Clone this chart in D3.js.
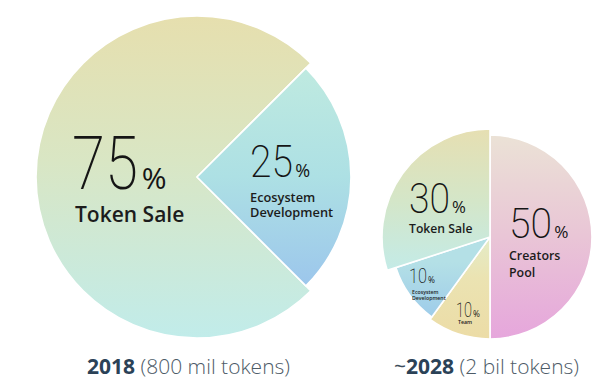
<!DOCTYPE html>
<html>
    <head>
        <title>Token Allocation</title>
        <style>
            body { margin:0; background:#ffffff; }
            #chart { width:608px; height:390px; }
            text { font-family:"Open Sans", sans-serif; }
            .num { font-family:Roboto, sans-serif; font-weight:200; fill:#151515; }
            .pct { font-weight:400; fill:#151515; }
            .name { font-weight:600; fill:#1c1c1c; }
        </style>
    </head>
    <body>
        <div id="chart"></div>
        <script src="https://d3js.org/d3.v7.min.js"></script>
        <script>
            // 2018 split
            var bigLabels = ["Token Sale", "Ecosystem Development"];
            var bigValues = [75, 25];
            // ~2028 split
            var smallLabels = ["Creators Pool", "Team", "Ecosystem Development", "Token Sale"];
            var smallValues = [50, 10, 10, 30];
            // captions under each pie
            var captionYears = ["2018", "2028"];
            var captionRest = [" (800 mil tokens)", " (2 bil tokens)"];

            var svg = d3.select("#chart").append("svg")
                .attr("width", 608)
                .attr("height", 390);

            var defs = svg.append("defs");
            function grad(id, y1, y2, stops) {
                var g = defs.append("linearGradient")
                    .attr("id", id)
                    .attr("gradientUnits", "userSpaceOnUse")
                    .attr("x1", 0).attr("x2", 0)
                    .attr("y1", y1).attr("y2", y2);
                stops.forEach(function(s) {
                    g.append("stop").attr("offset", s[0]).attr("stop-color", s[1]);
                });
            }
            grad("gBigSale", -161, 161, [[0, "#e6dfae"], [0.45, "#d9e6c4"], [1, "#c1ecea"]]);
            grad("gBigEco", -110, 110, [[0, "#bfeae0"], [0.5, "#ade0e4"], [1, "#9cc6ec"]]);
            grad("gPool", -102, 102, [[0, "#ebe2d6"], [0.5, "#e9c5d6"], [1, "#e6a6dc"]]);
            grad("gSale", -108, 35, [[0, "#e6dfb2"], [0.5, "#d4e6c8"], [1, "#c3ebe8"]]);
            grad("gEco", 25, 85, [[0, "#b4e0e6"], [1, "#9ccaea"]]);
            grad("gTeam", 0, 102, [[0, "#e4ecc8"], [0.4, "#ebe3b2"], [1, "#ecdca6"]]);

            var bigStyle = {
                "Token Sale": { r:161, fill:"url(#gBigSale)" },
                "Ecosystem Development": { r:154, fill:"url(#gBigEco)" }
            };
            var smallStyle = {
                "Creators Pool": { r:102, fill:"url(#gPool)" },
                "Team": { r:102, fill:"url(#gTeam)" },
                "Ecosystem Development": { r:99, fill:"url(#gEco)" },
                "Token Sale": { r:108, fill:"url(#gSale)" }
            };

            function drawPie(cx, cy, labels, values, style, start) {
                var pie = d3.pie().sort(null).startAngle(start).endAngle(start + 2 * Math.PI);
                var arcs = pie(values);
                var g = svg.append("g").attr("transform", "translate(" + cx + "," + cy + ")");
                g.selectAll("path")
                    .data(arcs)
                    .enter().append("path")
                    .attr("d", function(d, i) {
                        return d3.arc().innerRadius(0).outerRadius(style[labels[i]].r)(d);
                    })
                    .style("fill", function(d, i) { return style[labels[i]].fill; })
                    .style("stroke", "#ffffff")
                    .style("stroke-width", 1.6)
                    .style("stroke-linejoin", "round");
                return g;
            }

            var big = drawPie(197, 177, bigLabels, bigValues, bigStyle, 3 * Math.PI / 4);
            var small = drawPie(490, 237, smallLabels, smallValues, smallStyle, 0);

            // label layout: offsets from the pie centre
            function label(g, value, name, o) {
                // narrow the number horizontally to get the condensed look
                var num = g.append("text").attr("class", "num")
                    .attr("font-size", o.size)
                    .text(value);
                var sx = o.w / num.node().getComputedTextLength();
                num.attr("transform", "translate(" + o.x + "," + o.y + ") scale(" + sx + ",1)");
                g.append("text").attr("class", "pct")
                    .attr("x", o.x + o.w + o.size * 0.05).attr("y", o.y)
                    .attr("font-size", o.size * 0.4)
                    .text("%");
                var lines = o.lines || [name];
                lines.forEach(function(line, k) {
                    g.append("text").attr("class", "name")
                        .attr("x", o.x + (o.nx || 0))
                        .attr("y", o.y + o.gap + k * o.lh)
                        .attr("font-size", o.ns)
                        .text(line);
                });
            }

            var bigPos = [
                { x:-125, y:12, size:75, w:66, ns:21, gap:33, lh:0, nx:3 },
                { x:53, y:0, size:45, w:43, ns:12.8, gap:25, lh:15, lines:["Ecosystem", "Development"] }
            ];
            bigLabels.forEach(function(l, i) { label(big, bigValues[i], l, bigPos[i]); });

            var smallPos = [
                { x:19, y:1, size:43, w:43, ns:12.4, gap:22, lh:17, lines:["Creators", "Pool"] },
                { x:-34, y:80, size:21, w:16, ns:5.3, gap:7, lh:0, nx:2 },
                { x:-81, y:46, size:21, w:18, ns:5.2, gap:10.5, lh:6.5, nx:3, lines:["Ecosystem", "Development"] },
                { x:-81, y:-24, size:42, w:41, ns:12.2, gap:20, lh:0 }
            ];
            smallLabels.forEach(function(l, i) { label(small, smallValues[i], l, smallPos[i]); });

            // captions
            var capX = [87, 394];
            captionYears.forEach(function(y, i) {
                var t = svg.append("text")
                    .attr("x", capX[i]).attr("y", 374)
                    .attr("font-size", 21);
                if (i === 1) t.append("tspan").attr("font-weight", 400).attr("fill", "#3d4d5c").text("~");
                t.append("tspan").attr("font-weight", 700).attr("fill", "#2b4257").text(y);
                t.append("tspan").attr("font-weight", 300).attr("fill", "#4d5b67").text(captionRest[i]);
            });
        </script>
    </body>
</html>
